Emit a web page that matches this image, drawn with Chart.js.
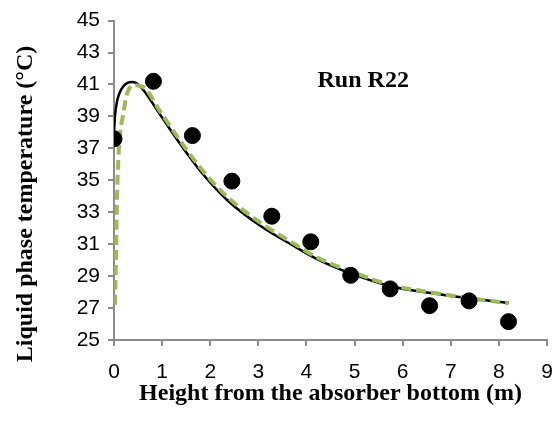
<!DOCTYPE html>
<html>
<head>
<meta charset="utf-8">
<script src="https://cdn.jsdelivr.net/npm/chart.js@4.4.1/dist/chart.umd.min.js"></script>
<style>
  html, body { margin: 0; padding: 0; background: #fff; }
  #wrap { width: 558px; height: 421px; }
</style>
</head>
<body>
<div id="wrap"><canvas id="tempChart"></canvas></div>
<script>
// measured points (height m, temperature C)
const obsX = [0, 0.82, 1.63, 2.45, 3.28, 4.09, 4.92, 5.74, 6.56, 7.38, 8.2];
const obsY = [37.6, 41.2, 37.8, 34.95, 32.75, 31.15, 29.05, 28.2, 27.15, 27.45, 26.15];

// model curve (black solid)
const modelX = [0, 0.02, 0.06, 0.12, 0.2, 0.28, 0.38, 0.54, 0.96, 1.37, 1.79, 2.34, 3.04, 3.73, 4.2, 4.92, 5.75, 6.58, 7.4, 8.2];
const modelY = [38.0, 39.0, 39.9, 40.5, 40.9, 41.1, 41.15, 40.9, 39.1, 37.3, 35.6, 33.8, 32.15, 30.9, 30.1, 29.17, 28.37, 27.94, 27.6, 27.33];

// second model curve (green dashed)
const dashX = [0.02, 0.04, 0.06, 0.09, 0.13, 0.19, 0.26, 0.4, 0.6, 0.96, 1.37, 1.79, 2.34, 3.04, 3.73, 4.2, 4.92, 5.75, 6.58, 7.4, 8.2];
const dashY = [27.2, 30.0, 33.5, 36.3, 38.0, 39.1, 40.3, 40.95, 40.85, 39.3, 37.5, 35.8, 34.0, 32.35, 31.05, 30.2, 29.3, 28.45, 27.98, 27.62, 27.3];

const xTicks = [0, 9, 1];   // min, max, step
const yTicks = [25, 45, 2];
const yTitle = "Liquid phase temperature (°C)";
const xTitle = "Height from the absorber bottom (m)";
const runLabel = "Run R22";

function toPoints(xs, ys) {
  return xs.map((x, i) => ({ x: x, y: ys[i] }));
}

const axisGray = "#8c8c8c";
const serifBold = { family: "'Liberation Serif', 'Times New Roman', serif", size: 24, weight: "bold" };
const tickFont = { family: "'Liberation Sans', Arial, sans-serif", size: 21 };

// y title and run label drawn on the canvas
const extraText = {
  id: "extraText",
  afterDraw(chart) {
    const ctx = chart.ctx;
    const xs = chart.scales.x, ys = chart.scales.y;
    ctx.save();
    ctx.fillStyle = "#000";
    ctx.font = "bold 24px 'Liberation Serif', 'Times New Roman', serif";
    ctx.textAlign = "center";
    ctx.textBaseline = "middle";
    ctx.fillText(runLabel, xs.getPixelForValue(5.18), ys.getPixelForValue(41.2));
    ctx.translate(26, 204);
    ctx.rotate(-Math.PI / 2);
    ctx.fillText(yTitle, 0, 0);
    ctx.restore();
  }
};

new Chart(document.getElementById("tempChart"), {
  type: "scatter",
  data: {
    datasets: [
      {
        label: "Measured",
        data: toPoints(obsX, obsY),
        backgroundColor: "#000",
        borderColor: "#000",
        pointRadius: 8,
        pointHoverRadius: 8,
        showLine: false,
        order: 0
      },
      {
        label: "Model 2",
        data: toPoints(dashX, dashY),
        showLine: true,
        borderColor: "#9bbb59",
        borderWidth: 4,
        borderDash: [10, 5],
        pointRadius: 0,
        cubicInterpolationMode: "monotone",
        order: 1
      },
      {
        label: "Model 1",
        data: toPoints(modelX, modelY),
        showLine: true,
        borderColor: "#000",
        borderWidth: 2.5,
        pointRadius: 0,
        cubicInterpolationMode: "monotone",
        order: 2
      }
    ]
  },
  options: {
    responsive: true,
    maintainAspectRatio: false,
    animation: false,
    layout: { padding: { top: 14, right: 11, left: 0, bottom: 0 } },
    plugins: {
      legend: { display: false },
      tooltip: { enabled: false }
    },
    scales: {
      x: {
        type: "linear",
        min: xTicks[0],
        max: xTicks[1],
        afterFit: (s) => { s.height = 81; s.paddingLeft = 0; s.paddingRight = 6; },
        ticks: { stepSize: xTicks[2], color: "#000", font: tickFont, padding: 14, maxRotation: 0, minRotation: 0 },
        grid: { drawOnChartArea: false, drawTicks: true, tickLength: 6, color: axisGray, lineWidth: 2 },
        border: { color: axisGray, width: 2 },
        title: { display: true, text: xTitle, color: "#000", font: serifBold, padding: { top: 0, bottom: 13 } }
      },
      y: {
        type: "linear",
        min: yTicks[0],
        max: yTicks[1],
        afterFit: (s) => { s.width = 114; },
        ticks: { stepSize: yTicks[2], color: "#000", font: tickFont, padding: 8 },
        grid: { drawOnChartArea: false, drawTicks: true, tickLength: 6, color: axisGray, lineWidth: 2 },
        border: { color: axisGray, width: 2 }
      }
    }
  },
  plugins: [extraText]
});
</script>
</body>
</html>
